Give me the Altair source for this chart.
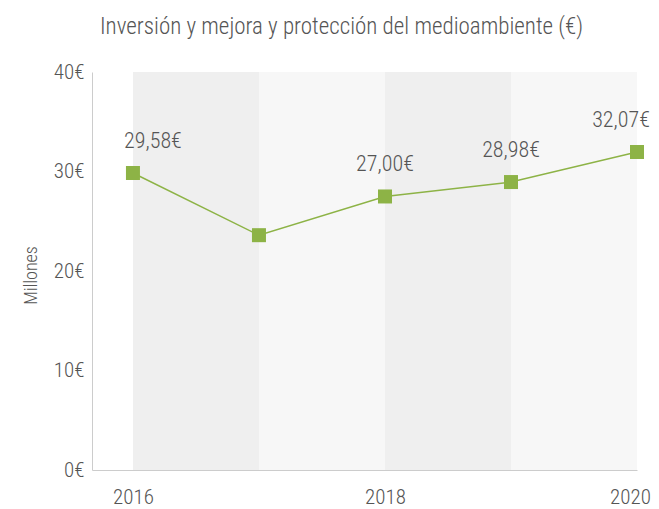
import altair as alt
import pandas as pd

years = [2016, 2017, 2018, 2019, 2020]
values = [29.85, 23.6, 27.49, 28.94, 31.96]
labels = ["29,58€", "", "27,00€", "28,98€", "32,07€"]

band_start = [2016, 2017, 2018, 2019]
band_end = [2017, 2018, 2019, 2020]
band_color = ["#efefef", "#f7f7f7", "#efefef", "#f7f7f7"]

FONT = "'Roboto Condensed', 'DejaVu Sans Condensed'"
GREEN = "#8db346"
TEXT = "#555555"
W = 300

df = pd.DataFrame({"year": years, "value": values, "label": labels})
bands = pd.DataFrame({"start": band_start, "end": band_end, "color": band_color,
                      "lo": [0] * 4, "hi": [40] * 4})

xscale = alt.Scale(domain=[2015.675, 2020], nice=False, zero=False)
yscale = alt.Scale(domain=[0, 40], nice=False)

xaxis = alt.Axis(values=[2016, 2018, 2020], format="d", title=None, grid=False,
                 ticks=False, domainColor="#cccccc", labelFont=FONT, labelFontSize=21,
                 labelFontWeight=W, labelColor=TEXT, labelPadding=16, labelFlush=False,
                 labelOffset={"condition": {"test": "datum.value == 2020", "value": -7},
                              "value": 0})
yaxis = alt.Axis(values=[0, 10, 20, 30, 40], labelExpr="datum.value + '€'", title="Millones",
                 grid=False, ticks=False, domainColor="#cccccc", labelFont=FONT,
                 labelFontSize=21, labelFontWeight=W, labelColor=TEXT, labelPadding=8,
                 titleFont=FONT, titleFontSize=18, titleColor=TEXT, titleFontWeight=W,
                 titleX=-61, titleY=203, titleAngle=270, titleAlign="center",
                 titleBaseline="middle")

band_layer = alt.Chart(bands).mark_rect().encode(
    x=alt.X("start:Q", scale=xscale, axis=xaxis),
    x2="end:Q",
    y=alt.Y("lo:Q", scale=yscale, axis=yaxis),
    y2="hi:Q",
    color=alt.Color("color:N", scale=None, legend=None),
)

base = alt.Chart(df).encode(
    x=alt.X("year:Q", scale=xscale),
    y=alt.Y("value:Q", scale=yscale),
)

line = base.mark_line(color=GREEN, strokeWidth=1.5)
pts = base.mark_square(color=GREEN, size=196, opacity=1)

def labels_layer(cond, dx):
    return base.transform_filter(cond).mark_text(
        font=FONT, fontSize=22, fontWeight=W, color=TEXT, dy=-20, dx=dx,
        baseline="bottom").encode(text="label:N")

txt_first = labels_layer("datum.year == 2016", 20)
txt_mid = labels_layer("datum.year > 2016 && datum.year < 2020", 0)
txt_last = labels_layer("datum.year == 2020", -16)

chart = alt.layer(band_layer, line, pts, txt_first, txt_mid, txt_last).properties(
    width=545,
    height=398,
    autosize=alt.AutoSizeParams(type="none"),
    padding={"left": 84, "top": 64, "right": 14, "bottom": 40},
    title=alt.TitleParams("Inversión y mejora y protección del medioambiente (€)",
                          font=FONT, fontSize=23, fontWeight=W, color=TEXT,
                          anchor="middle", frame="group", dx=-23, offset=22),
).configure_view(stroke=None)

chart.save("out.html", embed_options={"renderer": "svg", "actions": False})
